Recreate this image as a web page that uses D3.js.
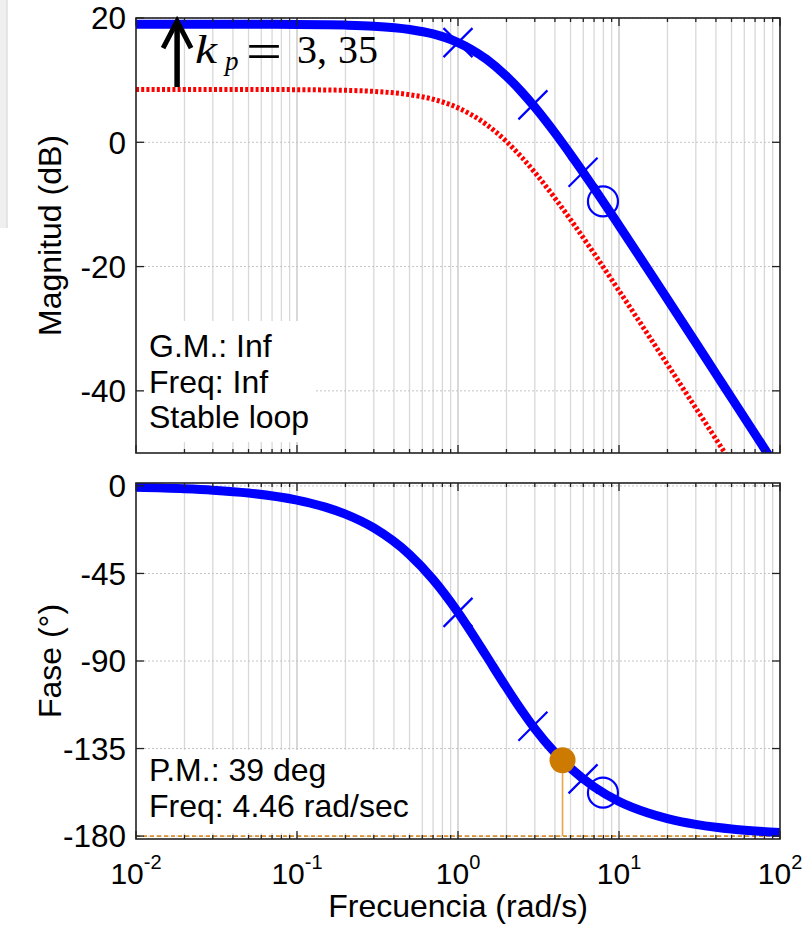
<!DOCTYPE html>
<html>
<head>
<meta charset="utf-8">
<script src="https://cdnjs.cloudflare.com/ajax/libs/d3/7.8.5/d3.min.js"></script>
<style>
  body{margin:0;background:#fff;}
  svg text{font-family:"Liberation Sans",Arial,Helvetica,sans-serif;fill:#000;}
</style>
</head>
<body>
<svg id="chart" width="809" height="933"></svg>
<script>
// frequency samples (rad/s)
const freq = [0.01,0.02,0.03,0.05,0.1,0.15,0.2,0.3,0.5,0.7,1,1.2,1.5,2,2.5,3,4,5,7,10,15,20,30,40,50,70,100];
// open loop with kp = 3,35 (blue) and plant alone (red dotted), dB
const magLoop  = [19.0,19.0,19.0,18.99,18.97,18.92,18.86,18.69,18.16,17.43,16.04,15.0,13.37,10.62,8.03,5.65,1.51,-1.94,-7.39,-13.38,-20.3,-25.26,-32.27,-37.26,-41.13,-46.97,-53.17];
const magPlant = [8.5,8.5,8.5,8.49,8.47,8.42,8.36,8.19,7.66,6.93,5.54,4.5,2.87,0.12,-2.47,-4.85,-8.99,-12.44,-17.89,-23.88,-30.8,-35.76,-42.77,-47.76,-51.63,-57.47,-63.67];
// phase, degrees
const phaseLoop = [-0.73,-1.46,-2.19,-3.65,-7.3,-10.9,-14.5,-21.6,-35.3,-48.1,-65.0,-74.8,-87.4,-103.7,-115.7,-124.8,-137.1,-145.1,-154.7,-162.2,-168.0,-171.0,-174.0,-175.5,-176.4,-177.4,-178.2];

// marker points on the blue curve
const crossFreq  = [1, 2.92, 5.98];
const crossMag   = [16.04, 6.02, -4.81];
const crossPhase = [-65.0, -123.5, -150.6];
const circleFreq  = [7.95];
const circleMag   = [-9.51];
const circlePhase = [-157.7];

// phase margin point
const pmFreq = 4.46;
const pmPhase = -141;

// kp arrow (from plant DC level up to loop DC level)
const arrowFreq = 0.018;
const arrowFrom = 8.9;
const arrowTo = 19.5;

const magTicks = [20, 0, -20, -40];
const phaseTicks = [0, -45, -90, -135, -180];
const decadeExp = [-2, -1, 0, 1, 2];

const gmLines = ["G.M.: Inf", "Freq: Inf", "Stable loop"];
const pmLines = ["P.M.: 39 deg", "Freq: 4.46 rad/sec"];

const svg = d3.select('#chart');
svg.append('rect').attr('width', 809).attr('height', 933).attr('fill', '#fff');
// faint window edge at far left
svg.append('rect').attr('x', 0).attr('y', 0).attr('width', 7).attr('height', 228).attr('fill', '#efefef');
svg.append('line').attr('x1', 7).attr('x2', 7).attr('y1', 0).attr('y2', 228).attr('stroke', '#dedede').attr('stroke-width', 1.5);

const x = d3.scaleLog().domain([0.01, 100]).range([136, 780]);
const yMag = d3.scaleLinear().domain([-50, 20]).range([453, 18]);
const yPh = d3.scaleLinear().domain([-181.5, 1.5]).range([839, 483]);

const allTicks = x.ticks();
const isMajor = f => Math.abs(Math.log10(f) - Math.round(Math.log10(f))) < 1e-9;

function panel(name, y, ticks){
    const [y0, y1] = y.range();       // bottom, top
    const [x0, x1] = x.range();
    const g = svg.append('g').attr('class', name);

    g.append('clipPath').attr('id', 'clip-' + name)
        .append('rect').attr('x', x0).attr('y', y1).attr('width', x1 - x0).attr('height', y0 - y1);

    // grid
    g.append('g').selectAll('line')
        .data(allTicks.filter(f => f > 0.01 && f < 100))
        .enter().append('line')
            .attr('x1', d => x(d)).attr('x2', d => x(d))
            .attr('y1', y1).attr('y2', y0)
            .attr('stroke', d => isMajor(d) ? '#c4c4c4' : '#d8d8d8')
            .attr('stroke-width', 1.3);
    g.append('g').selectAll('line')
        .data(ticks)
        .enter().append('line')
            .attr('x1', x0).attr('x2', x1)
            .attr('y1', d => y(d)).attr('y2', d => y(d))
            .attr('stroke', '#c4c4c4')
            .attr('stroke-dasharray', '2,2')
            .attr('stroke-width', 1);

    const plot = g.append('g').attr('clip-path', `url(#clip-${name})`);
    return {g, plot};
}

function frame(g, y, ticks){
    const [y0, y1] = y.range();
    const [x0, x1] = x.range();
    // y ticks inside, both sides
    ticks.forEach(t => {
        g.append('line').attr('x1', x0).attr('x2', x0 + 8).attr('y1', y(t)).attr('y2', y(t)).attr('stroke', '#222').attr('stroke-width', 1.3);
        g.append('line').attr('x1', x1).attr('x2', x1 - 8).attr('y1', y(t)).attr('y2', y(t)).attr('stroke', '#222').attr('stroke-width', 1.3);
    });
    // x ticks inside, top and bottom
    allTicks.forEach(f => {
        const len = isMajor(f) ? 8 : 4;
        g.append('line').attr('x1', x(f)).attr('x2', x(f)).attr('y1', y0).attr('y2', y0 - len).attr('stroke', '#222').attr('stroke-width', 1.3);
        g.append('line').attr('x1', x(f)).attr('x2', x(f)).attr('y1', y1).attr('y2', y1 + len).attr('stroke', '#222').attr('stroke-width', 1.3);
    });
    g.append('rect')
        .attr('x', x0).attr('y', y1).attr('width', x1 - x0).attr('height', y0 - y1)
        .attr('fill', 'none').attr('stroke', '#222').attr('stroke-width', 1.6);

    g.append('g').selectAll('text')
        .data(ticks)
        .enter().append('text')
            .attr('x', 126).attr('y', d => y(d))
            .attr('dy', '0.36em')
            .attr('text-anchor', 'end')
            .attr('font-size', 31.5)
            .text(d => d);
}

function textBox(g, lines, x0, y0, w, h, firstBase, step){
    g.append('rect').attr('x', x0).attr('y', y0).attr('width', w).attr('height', h).attr('fill', '#fff');
    g.selectAll('text.box').data(lines).enter().append('text')
        .attr('class', 'box')
        .attr('x', x0 + 12)
        .attr('y', (d, i) => firstBase + i * step)
        .attr('font-size', 32)
        .text(d => d);
}

function crossMarks(plot, fs, vs, y){
    const s = 14.5;
    fs.forEach((f, i) => {
        const cx = x(f), cy = y(vs[i]);
        plot.append('path')
            .attr('d', `M${cx - s},${cy - s}L${cx + s},${cy + s}M${cx - s},${cy + s}L${cx + s},${cy - s}`)
            .attr('stroke', '#0000ff').attr('stroke-width', 2.2).attr('fill', 'none');
    });
}

function circleMarks(plot, fs, vs, y){
    fs.forEach((f, i) => {
        plot.append('circle')
            .attr('cx', x(f)).attr('cy', y(vs[i])).attr('r', 15)
            .attr('stroke', '#0000ff').attr('stroke-width', 2.2).attr('fill', 'none');
    });
}

const line = (y, vals) => d3.line()
    .curve(d3.curveMonotoneX)
    .x((d, i) => x(freq[i]))
    .y((d, i) => y(vals[i]))(freq);

// ---------- magnitude ----------
const mag = panel('mag', yMag, magTicks);
textBox(mag.g, gmLines, 137, 321, 178, 121, 357, 35.5);
mag.plot.append('path')
    .attr('d', line(yMag, magPlant))
    .attr('fill', 'none').attr('stroke', '#ff0000').attr('stroke-width', 5)
    .attr('stroke-dasharray', '3,2.2');
mag.plot.append('path')
    .attr('d', line(yMag, magLoop))
    .attr('fill', 'none').attr('stroke', '#0000ff').attr('stroke-width', 9);
crossMarks(mag.plot, crossFreq, crossMag, yMag);
circleMarks(mag.plot, circleFreq, circleMag, yMag);
frame(mag.g, yMag, magTicks);

// kp arrow and label
const ax = x(arrowFreq), ayTop = yMag(arrowTo), ayBot = yMag(arrowFrom);
svg.append('line').attr('x1', ax).attr('x2', ax).attr('y1', ayBot).attr('y2', ayTop + 3)
    .attr('stroke', '#000').attr('stroke-width', 5.5);
svg.append('path')
    .attr('d', `M${ax - 14},${ayTop + 27}L${ax},${ayTop}L${ax + 14},${ayTop + 27}`)
    .attr('fill', 'none').attr('stroke', '#000').attr('stroke-width', 5).attr('stroke-linejoin', 'miter');

const kpBase = yMag(12.8);
const serif = '"Liberation Serif","Times New Roman",serif';
const kpPart = (dx, dy, size, italic, str, len) => {
    const t = svg.append('text')
        .attr('x', ax + dx).attr('y', kpBase + dy)
        .style('font-family', serif)
        .style('font-style', italic ? 'italic' : 'normal')
        .attr('font-size', size)
        .text(str);
    if(len) t.attr('textLength', len).attr('lengthAdjust', 'spacingAndGlyphs');
    return t;
};
kpPart(18, 0, 40, true, 'k', 22);
kpPart(48, 7, 27, true, 'p');
kpPart(69, 6, 52, false, '=', 36);
kpPart(120, 0, 40, false, '3,');
kpPart(161, 0, 40, false, '35');

// ---------- phase ----------
const ph = panel('ph', yPh, phaseTicks);
textBox(ph.g, pmLines, 137, 750, 283, 83, 781, 36);
ph.plot.append('line')
    .attr('x1', x(0.01)).attr('x2', x(100))
    .attr('y1', yPh(-180)).attr('y2', yPh(-180))
    .attr('stroke', '#d9902a').attr('stroke-width', 1.6).attr('stroke-dasharray', '4,3');
ph.plot.append('line')
    .attr('x1', x(pmFreq)).attr('x2', x(pmFreq))
    .attr('y1', yPh(pmPhase)).attr('y2', yPh(-180))
    .attr('stroke', '#e8a54a').attr('stroke-width', 1.6);
ph.plot.append('path')
    .attr('d', line(yPh, phaseLoop))
    .attr('fill', 'none').attr('stroke', '#0000ff').attr('stroke-width', 9);
crossMarks(ph.plot, crossFreq, crossPhase, yPh);
circleMarks(ph.plot, circleFreq, circlePhase, yPh);
ph.plot.append('circle')
    .attr('cx', x(pmFreq)).attr('cy', yPh(pmPhase)).attr('r', 13)
    .attr('fill', '#cc7a00');
frame(ph.g, yPh, phaseTicks);

// x tick labels 10^n
const xl = svg.append('g').selectAll('text')
    .data(decadeExp)
    .enter().append('text')
        .attr('x', d => x(Math.pow(10, d)))
        .attr('y', 884)
        .attr('text-anchor', 'middle')
        .attr('font-size', 30);
xl.append('tspan').text('10');
xl.append('tspan').attr('dy', -15).attr('font-size', 20).text(d => d);

// axis labels
svg.append('text')
    .attr('transform', `translate(61,${(yMag.range()[0] + yMag.range()[1]) / 2}) rotate(-90)`)
    .attr('text-anchor', 'middle').attr('font-size', 32)
    .text('Magnitud (dB)');
svg.append('text')
    .attr('transform', `translate(61,${(yPh.range()[0] + yPh.range()[1]) / 2}) rotate(-90)`)
    .attr('text-anchor', 'middle').attr('font-size', 32)
    .text('Fase (°)');
svg.append('text')
    .attr('x', (x.range()[0] + x.range()[1]) / 2).attr('y', 917)
    .attr('text-anchor', 'middle').attr('font-size', 32)
    .text('Frecuencia (rad/s)');
</script>
</body>
</html>
